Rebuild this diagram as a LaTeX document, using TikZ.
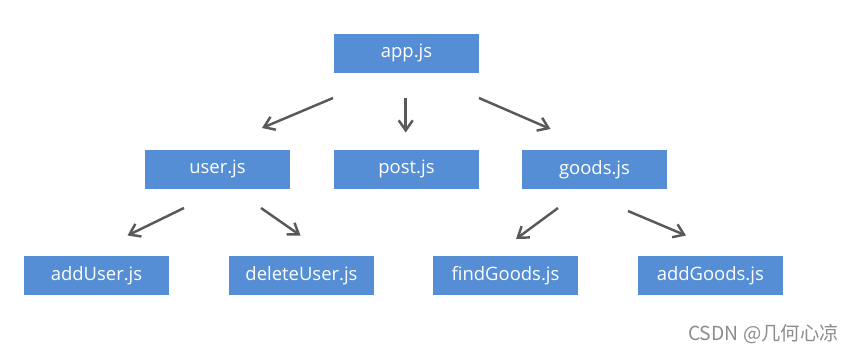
\documentclass[tikz,border=0pt]{standalone}
\usepackage{fontspec}
\setmainfont{Open Sans}
\newfontfamily\cjkfont{Noto Sans CJK SC}
\definecolor{boxblue}{HTML}{558ED5}
\definecolor{arrowgray}{HTML}{595959}
\definecolor{markgray}{HTML}{8C8C8C}
\usepackage{tikz}
\usetikzlibrary{arrows.meta, positioning}
\tikzset{
	filenode/.style={
			rectangle,
			draw=none,
			fill=boxblue,
			text=white,
			minimum width=2.9cm,
			minimum height=0.774cm,
			inner sep=0pt,
			font=\fontsize{10.5}{12}\selectfont
		},
	linkarrow/.style={
			draw=arrowgray,
			line width=1.4pt,
			-{Straight Barb[length=2mm,width=2.8mm,line width=1.4pt]}
		},
	marknode/.style={
			anchor=base east,
			inner sep=0pt,
			text=markgray,
			font=\cjkfont\fontsize{11}{13}\selectfont
		}
}
\begin{document}
\begin{tikzpicture}[x=0.02cm, y=-0.02cm]

\useasboundingbox (0,0) rectangle (854,352);

\node[filenode] (fApp) at (406.5,53.3) {app.js};

\node[filenode] (fUser) at (217.5,169.3) {user.js};
\node[filenode] (fPost) at (406.5,169.3) {post.js};
\node[filenode] (fGoods) at (594.5,169.3) {goods.js};

\node[filenode] (fAddUser) at (96.5,275.3) {addUser.js};
\node[filenode] (fDelUser) at (301.5,275.3) {deleteUser.js};
\node[filenode] (fFindGoods) at (505.5,275.3) {findGoods.js};
\node[filenode] (fAddGoods) at (710.3,275.3) {addGoods.js};

\coordinate (aUserS) at (333,98);
\coordinate (aUserE) at (262,128);
\coordinate (aPostS) at (405.7,98);
\coordinate (aPostE) at (405.7,132.5);
\coordinate (aGoodsS) at (479,98);
\coordinate (aGoodsE) at (550.5,129);
\coordinate (aAddUserS) at (184,208);
\coordinate (aAddUserE) at (127.5,235.5);
\coordinate (aDelUserS) at (261,208);
\coordinate (aDelUserE) at (300.5,235.5);
\coordinate (aFindGoodsS) at (558,208);
\coordinate (aFindGoodsE) at (516,239);
\coordinate (aAddGoodsS) at (628,211);
\coordinate (aAddGoodsE) at (686,235.5);

\draw[linkarrow] (aUserS) -- (aUserE);
\draw[linkarrow] (aPostS) -- (aPostE);
\draw[linkarrow] (aGoodsS) -- (aGoodsE);
\draw[linkarrow] (aAddUserS) -- (aAddUserE);
\draw[linkarrow] (aDelUserS) -- (aDelUserE);
\draw[linkarrow] (aFindGoodsS) -- (aFindGoodsE);
\draw[linkarrow] (aAddGoodsS) -- (aAddGoodsE);

\node[marknode] (wMark) at (839,340) {CSDN @几何心凉};

\end{tikzpicture}
\end{document}
